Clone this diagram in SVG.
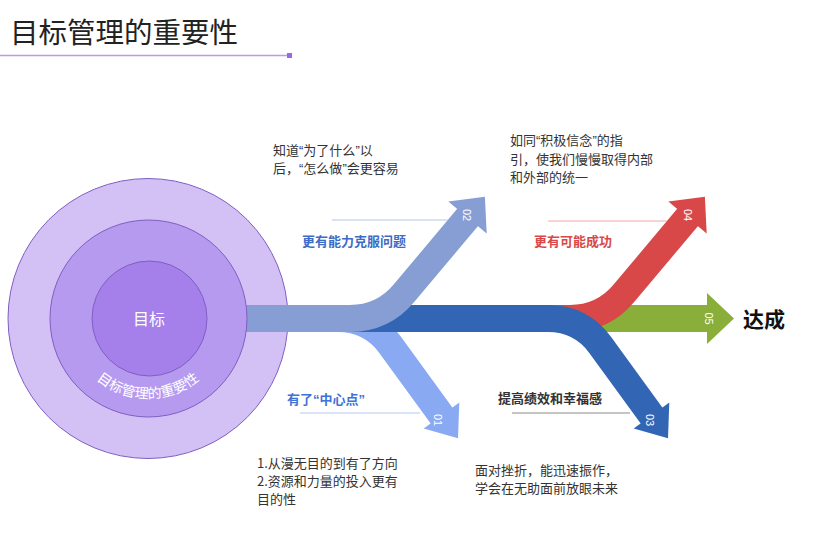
<svg xmlns="http://www.w3.org/2000/svg" width="823" height="540" viewBox="0 0 823 540">
<style>
  text { font-family: "Noto Sans CJK SC", "Liberation Sans", sans-serif; }
  .title { font-size: 28.5px; fill: #222; }
  .body { font-size: 13px; fill: #333; }
  .lbl { font-size: 13px; font-weight: bold; }
  .q { font-family: "Liberation Sans", sans-serif; }
  .num { font-size: 11px; fill: #fff; font-family: "Liberation Sans", sans-serif; }
  .band { fill: none; stroke-width: 27; }
  .ring { stroke: #7f5fc2; stroke-width: 1; }
</style>
<defs>
  <path id="arcText" d="M 68 318.5 A 80 80 0 0 0 228 318.5"/>
</defs>

<g id="title">
  <text class="title" x="10" y="43">目标管理的重要性</text>
  <line x1="0" y1="55.5" x2="288" y2="55.5" stroke="#b99be8" stroke-width="1.5"/>
  <rect x="287" y="53" width="5" height="5" fill="#9a68e2"/>
</g>

<g id="outer-circle">
  <circle class="ring" cx="148" cy="318.5" r="140" fill="#d3c0f5"/>
</g>

<g id="connectors">
  <!-- 05 green -->
  <path class="band" stroke="#8aae3a" d="M 560 318.5 H 709"/>
  <polygon fill="#8aae3a" points="707,293 734,318.5 707,344"/>
  <!-- 04 red -->
  <path class="band" stroke="#d94848" d="M 450 318.5 H 570 Q 603 318.5 624 293.2 L 688.8 216"/>
  <polygon fill="#d94848" points="706.7,233.6 704.9,196.8 668.3,201.4"/>
  <!-- 01 light blue -->
  <path class="band" stroke="#89aaf2" d="M 247 318.5 H 338 Q 371 318.5 390.4 345.2 L 442.7 417.1"/>
  <polygon fill="#89aaf2" points="459.3,402.6 458,438.2 423.7,428.4"/>
  <!-- 03 dark blue -->
  <path class="band" stroke="#3265b3" d="M 300 318.5 H 548 Q 581 318.5 600.4 345.2 L 652.7 417.1"/>
  <polygon fill="#3265b3" points="669.3,402.6 668,438.2 633.7,428.4"/>
  <!-- 02 grey blue -->
  <path class="band" stroke="#869ed4" d="M 240 318.5 H 350 Q 383 318.5 404 293.2 L 468.8 216"/>
  <polygon fill="#869ed4" points="486.7,233.6 484.9,196.8 448.3,201.4"/>
  <!-- numbers -->
  <text class="num" transform="translate(463,215) rotate(90)" text-anchor="middle">02</text>
  <text class="num" transform="translate(434,420) rotate(90)" text-anchor="middle">01</text>
  <text class="num" transform="translate(646,420) rotate(90)" text-anchor="middle">03</text>
  <text class="num" transform="translate(684,215) rotate(90)" text-anchor="middle">04</text>
  <text class="num" transform="translate(705,318.5) rotate(90)" text-anchor="middle">05</text>
  <!-- label lines -->
  <line x1="332" y1="220" x2="448" y2="220" stroke="#b5c7ea" stroke-width="1"/>
  <line x1="300" y1="413" x2="420" y2="413" stroke="#b5c9f2" stroke-width="1"/>
  <line x1="512" y1="413" x2="630" y2="413" stroke="#8a8a8a" stroke-width="1"/>
  <line x1="548" y1="221" x2="667" y2="221" stroke="#f0a8a8" stroke-width="1"/>
</g>

<g id="inner-circles">
  <circle class="ring" cx="148.5" cy="318.5" r="98.5" fill="#b69af0"/>
  <circle class="ring" cx="149.5" cy="318.5" r="57.5" fill="#a57fea"/>
  <text x="149" y="325" text-anchor="middle" font-size="16" fill="#fff">目标</text>
  <text font-size="14" fill="#fff"><textPath href="#arcText" startOffset="50%" text-anchor="middle">目标管理的重要性</textPath></text>
</g>

<g id="node-02">
  <text class="lbl" x="302" y="246" fill="#3d6cc6">更有能力克服问题</text>
  <text class="body" x="273" y="155">知道<tspan class="q">“</tspan>为了什么<tspan class="q">”</tspan>以</text>
  <text class="body" x="273" y="173">后，<tspan class="q">“</tspan>怎么做<tspan class="q">”</tspan>会更容易</text>
</g>
<g id="node-01">
  <text class="lbl" x="287" y="404" fill="#3d72d6">有了<tspan class="q">“</tspan>中心点<tspan class="q">”</tspan></text>
  <text class="body" x="257" y="468">1.从漫无目的到有了方向</text>
  <text class="body" x="257" y="486">2.资源和力量的投入更有</text>
  <text class="body" x="257" y="504">目的性</text>
</g>
<g id="node-04">
  <text class="lbl" x="534" y="246" fill="#d94848">更有可能成功</text>
  <text class="body" x="510" y="145">如同<tspan class="q">“</tspan>积极信念<tspan class="q">”</tspan>的指</text>
  <text class="body" x="510" y="164">引，使我们慢慢取得内部</text>
  <text class="body" x="510" y="182">和外部的统一</text>
</g>
<g id="node-03">
  <text class="lbl" x="498" y="403" fill="#333">提高绩效和幸福感</text>
  <text class="body" x="475" y="475">面对挫折，能迅速振作，</text>
  <text class="body" x="475" y="493">学会在无助面前放眼未来</text>
</g>
<g id="node-05">
  <text x="743" y="327" font-size="21" font-weight="bold" fill="#111">达成</text>
</g>
</svg>
